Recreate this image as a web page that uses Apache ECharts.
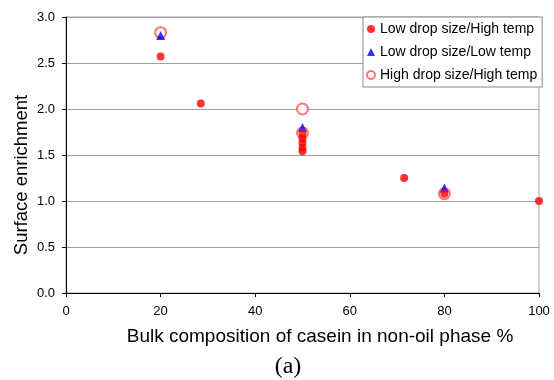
<!DOCTYPE html>
<html><head><meta charset="utf-8">
<script src="https://cdn.jsdelivr.net/npm/echarts@6/dist/echarts.min.js"></script>
<style>html,body{margin:0;padding:0;background:#fff}#c{width:554px;height:380px}</style>
</head><body><div id="c"></div>
<script>
var seriesNames = ['Low drop size/High temp', 'Low drop size/Low temp', 'High drop size/High temp'];
var lowHighX = [20, 28.5, 50, 50, 50, 50, 50, 71.5, 80, 100];
var lowHighY = [2.57, 2.06, 1.73, 1.68, 1.63, 1.58, 1.54, 1.25, 1.08, 1.0];
var lowLowX = [20, 50, 80];
var lowLowY = [2.80, 1.80, 1.14];
var highHighX = [20, 50, 50, 80];
var highHighY = [2.83, 2.0, 1.74, 1.08];
var xTicks = [0, 20, 40, 60, 80, 100];
var yTicks = [0, 0.5, 1, 1.5, 2, 2.5, 3];

function pairs(xs, ys){ return xs.map(function(x,i){ return [x, ys[i]]; }); }
var font = 'Liberation Sans, Arial, sans-serif';
var chart = echarts.init(document.getElementById('c'));
chart.setOption({
  animation: false,
  grid: {left: 66, right: 15, top: 17, bottom: 87, show: true, borderColor: '#a0a0a0', borderWidth: 1},
  legend: {
    orient: 'vertical', left: 363, top: 17,
    backgroundColor: '#fff', borderColor: '#888', borderWidth: 1,
    padding: [5, 5, 5, 3], itemGap: 9, itemWidth: 8, itemHeight: 8,
    textStyle: {fontFamily: font, fontSize: 14, color: '#000'},
    data: [
      {name: seriesNames[0], icon: 'circle'},
      {name: seriesNames[1], icon: 'triangle'},
      {name: seriesNames[2], icon: 'emptyCircle'}
    ]
  },
  xAxis: {
    type: 'value', min: 0, max: 100, interval: 20,
    axisLine: {lineStyle: {color: '#000', width: 1}},
    axisTick: {show: true, inside: false, length: 4, lineStyle: {color: '#000'}},
    axisLabel: {fontFamily: font, fontSize: 13, color: '#000', margin: 12,
      formatter: function(v){ return xTicks.indexOf(v) >= 0 ? String(v) : ''; }},
    splitLine: {show: false}
  },
  yAxis: {
    type: 'value', min: 0, max: 3, interval: 0.5,
    axisLine: {show: true, lineStyle: {color: '#000', width: 1}},
    axisTick: {show: true, inside: false, length: 4, lineStyle: {color: '#000'}},
    axisLabel: {fontFamily: font, fontSize: 13, color: '#000', margin: 11,
      formatter: function(v){ return yTicks.indexOf(v) >= 0 ? v.toFixed(1) : ''; }},
    splitLine: {show: true, lineStyle: {color: '#a0a0a0', width: 1}}
  },
  graphic: [
    {type: 'text', x: 22, y: 175, rotation: Math.PI/2,
      style: {text: 'Surface enrichment', font: '18.5px ' + font, fill: '#000', textAlign: 'center', textVerticalAlign: 'middle'}},
    {type: 'text', x: 320, y: 337,
      style: {text: 'Bulk composition of casein in non-oil phase %', font: '19px ' + font, fill: '#000', textAlign: 'center', textVerticalAlign: 'middle'}},
    {type: 'text', x: 288, y: 367,
      style: {text: '(a)', font: '24px Liberation Serif, Times New Roman, serif', fill: '#000', textAlign: 'center', textVerticalAlign: 'middle'}}
  ],
  series: [
    {name: seriesNames[2], type: 'scatter', symbol: 'emptyCircle', symbolSize: 11, z: 2,
      itemStyle: {color: '#ff5050', borderColor: '#ff5050', borderWidth: 1}, data: pairs(highHighX, highHighY)},
    {name: seriesNames[1], type: 'scatter', symbol: 'triangle', symbolSize: 9, z: 3,
      itemStyle: {color: '#0000ff'}, data: pairs(lowLowX, lowLowY)},
    {name: seriesNames[0], type: 'scatter', symbol: 'circle', symbolSize: 8, z: 4,
      itemStyle: {color: '#ff0000'}, data: pairs(lowHighX, lowHighY)}
  ]
});
</script></body></html>
